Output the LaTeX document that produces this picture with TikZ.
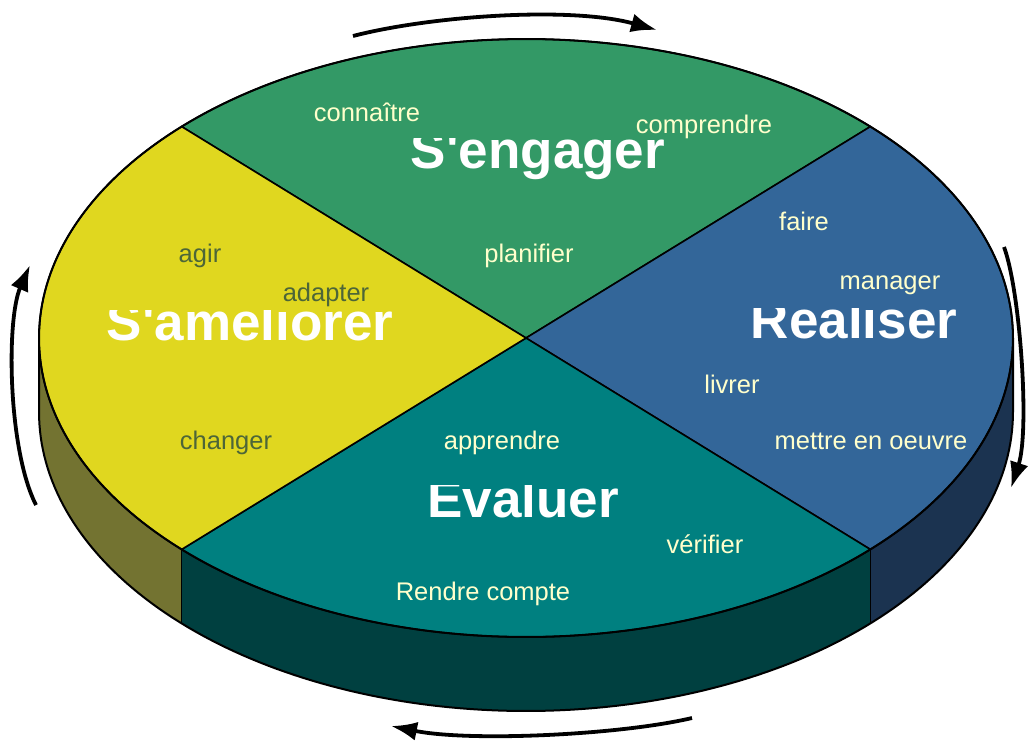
\documentclass[tikz,border=0pt]{standalone}
\usepackage{fontspec}
\setmainfont{Liberation Sans}
\newfontfamily\titlefont{Liberation Sans}[Ligatures=TeXOff]
\usetikzlibrary{arrows.meta}
\definecolor{cgreen}{HTML}{339966}
\definecolor{cblue}{HTML}{336699}
\definecolor{cteal}{HTML}{008080}
\definecolor{cyellow}{HTML}{E0D71F}
\definecolor{colive}{HTML}{737331}
\definecolor{cdteal}{HTML}{004040}
\definecolor{cnavy}{HTML}{1B3350}
\definecolor{lighttxt}{HTML}{FFFFCC}
\definecolor{darktxt}{HTML}{4D6638}
\begin{document}
\begin{tikzpicture}[x=1pt,y=-1pt,
  small/.style={inner sep=0pt,anchor=base,font=\fontsize{25.5}{30}\selectfont,text=lighttxt},
  smalldark/.style={small,text=darktxt},
  title/.style={inner sep=0pt,anchor=base,font=\titlefont\bfseries\fontsize{53}{60}\selectfont,text=white},
  outline/.style={draw=black,line width=1.6pt,line join=round},
  rim/.style={draw=black,line width=2pt,line join=round},
  cyc/.style={draw=black,line width=3.8pt,-{Latex[length=26pt,width=19pt]}}]
\useasboundingbox (0,0) rectangle (1029,740);
\def\cx{526}\def\cy{338}\def\rx{487}\def\ry{299}\def\dz{74}
% side
\fill[colive] plot[domain=135:180,samples=40] ({\cx+\rx*cos(\x)},{\cy+\ry*sin(\x)})
  -- plot[domain=180:135,samples=40] ({\cx+\rx*cos(\x)},{\cy+\dz+\ry*sin(\x)}) -- cycle;
\fill[cdteal] plot[domain=45:135,samples=80] ({\cx+\rx*cos(\x)},{\cy+\ry*sin(\x)})
  -- plot[domain=135:45,samples=80] ({\cx+\rx*cos(\x)},{\cy+\dz+\ry*sin(\x)}) -- cycle;
\fill[cnavy] plot[domain=0:45,samples=40] ({\cx+\rx*cos(\x)},{\cy+\ry*sin(\x)})
  -- plot[domain=45:0,samples=40] ({\cx+\rx*cos(\x)},{\cy+\dz+\ry*sin(\x)}) -- cycle;
\draw[rim] ({\cx+\rx},\cy) -- plot[domain=0:180,samples=150] ({\cx+\rx*cos(\x)},{\cy+\dz+\ry*sin(\x)}) -- ({\cx-\rx},\cy);
\draw[outline] ({\cx+\rx*cos(45)},{\cy+\ry*sin(45)}) -- ++(0,\dz);
\draw[outline] ({\cx+\rx*cos(135)},{\cy+\ry*sin(135)}) -- ++(0,\dz);
% top sectors
\filldraw[fill=cgreen,outline] (\cx,\cy) -- plot[domain=225:315,samples=80] ({\cx+\rx*cos(\x)},{\cy+\ry*sin(\x)}) -- cycle;
\filldraw[fill=cblue,outline] (\cx,\cy) -- plot[domain=-45:45,samples=80] ({\cx+\rx*cos(\x)},{\cy+\ry*sin(\x)}) -- cycle;
\filldraw[fill=cteal,outline] (\cx,\cy) -- plot[domain=45:135,samples=80] ({\cx+\rx*cos(\x)},{\cy+\ry*sin(\x)}) -- cycle;
\filldraw[fill=cyellow,outline] (\cx,\cy) -- plot[domain=135:225,samples=80] ({\cx+\rx*cos(\x)},{\cy+\ry*sin(\x)}) -- cycle;
\draw[rim] plot[domain=0:360,samples=300] ({\cx+\rx*cos(\x)},{\cy+\ry*sin(\x)}) -- cycle;
% titles (tops hidden as in the reference)
\begin{scope}\clip (0,138) rectangle (1029,200);
  \node[title] (engager) at (538,168) {S'engager};
\end{scope}
\begin{scope}\clip (0,308) rectangle (1029,370);
  \node[title] (realiser) at (854,338) {Réaliser};
\end{scope}
\begin{scope}\clip (0,310) rectangle (520,372);
  \node[title] (ameliorer) at (250,340) {S'améliorer};
\end{scope}
\begin{scope}\clip (0,485) rectangle (1029,547);
  \node[title] (evaluer) at (523,517) {Évaluer};
\end{scope}
% small labels
\node[small] (connaitre) at (367,121) {connaître};
\node[small] (comprendre) at (704,133) {comprendre};
\node[small] (planifier) at (529,262) {planifier};
\node[small] (faire) at (804,230) {faire};
\node[small] (manager) at (890,289) {manager};
\node[small] (livrer) at (732,393) {livrer};
\node[small] (mettre) at (871,449) {mettre en oeuvre};
\node[smalldark] (agir) at (200,262) {agir};
\node[smalldark] (adapter) at (326,301) {adapter};
\node[smalldark] (changer) at (226,449) {changer};
\node[small] (apprendre) at (502,449) {apprendre};
\node[small] (verifier) at (705,553) {vérifier};
\node[small] (rendre) at (483,600) {Rendre compte};
% cycle arrows
\coordinate (a1s) at (353,36);  \coordinate (a1e) at (657,30);
\coordinate (a2s) at (1004,247); \coordinate (a2e) at (1011,488);
\coordinate (a3s) at (692,718); \coordinate (a3e) at (391,726);
\coordinate (a4s) at (36,505);  \coordinate (a4e) at (30,265);
\draw[cyc] (a1s) .. controls (430,16) and (570,6) .. (a1e);
\draw[cyc] (a2s) .. controls (1020,290) and (1030,430) .. (a2e);
\draw[cyc] (a3s) .. controls (620,735) and (470,742) .. (a3e);
\draw[cyc] (a4s) .. controls (8,450) and (6,320) .. (a4e);
\end{tikzpicture}
\end{document}
